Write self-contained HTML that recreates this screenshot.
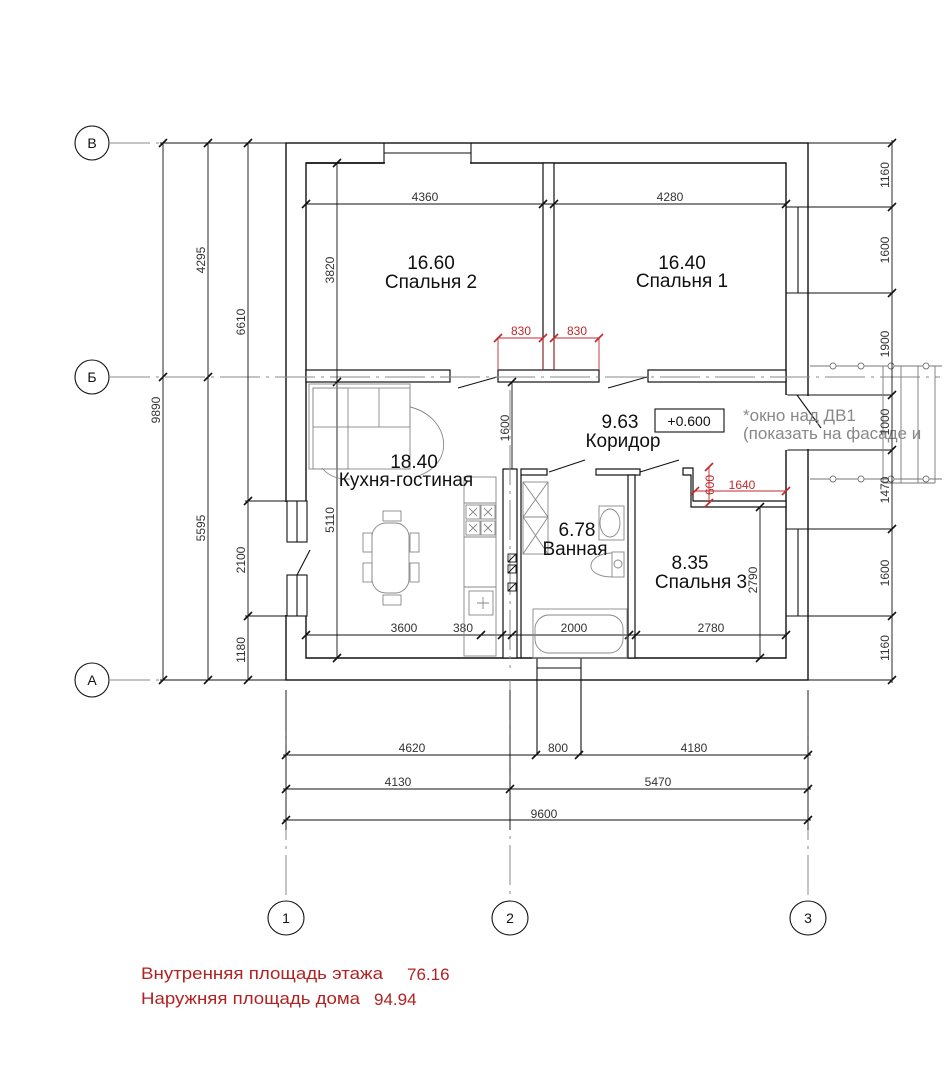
<!DOCTYPE html>
<html><head><meta charset="utf-8"><style>
html,body{margin:0;padding:0;background:#fff;}
svg{display:block}
text{font-family:"Liberation Sans",sans-serif;}
.d{font-size:12px;fill:#333}
.r{font-size:19px;fill:#111}
</style></head><body>
<svg width="949" height="1080" viewBox="0 0 949 1080" xmlns="http://www.w3.org/2000/svg">
<g fill="none" stroke="#111" stroke-width="1.4">
<rect x="286" y="143" width="522" height="537"/>
<polyline points="306,501 306,163 786,163 786,658 306,658 306,616"/>
</g>
<rect x="284" y="502" width="24" height="113" fill="#fff"/>
<g fill="none" stroke="#111" stroke-width="1.1">
<line x1="286" y1="501" x2="306" y2="501"/><line x1="286" y1="616" x2="306" y2="616"/>
<rect x="287" y="501" width="20" height="41"/><line x1="297" y1="501" x2="297" y2="542"/>
<rect x="287" y="575" width="20" height="41"/><line x1="297" y1="575" x2="297" y2="616"/>
<line x1="310" y1="550" x2="297" y2="575"/>
</g>
<rect x="385" y="145" width="85" height="20" fill="#fff"/>
<g fill="none" stroke="#111" stroke-width="1.1">
<line x1="384" y1="143" x2="384" y2="163"/><line x1="471" y1="143" x2="471" y2="163"/>
<line x1="384" y1="153" x2="471" y2="153"/>
<line x1="306" y1="163" x2="384" y2="163" stroke-width="1.4"/>
</g>
<rect x="788" y="396" width="22" height="53" fill="#fff"/>
<g fill="none" stroke="#111" stroke-width="1.1">
<line x1="786" y1="207" x2="892" y2="207"/><line x1="786" y1="293" x2="892" y2="293"/>
<line x1="798" y1="207" x2="798" y2="293"/>
<line x1="786" y1="395" x2="892" y2="395"/><line x1="786" y1="450" x2="892" y2="450"/>
<line x1="786" y1="529" x2="892" y2="529"/><line x1="786" y1="616" x2="892" y2="616"/>
<line x1="798" y1="529" x2="798" y2="616"/>
<line x1="786" y1="395" x2="786" y2="450" stroke="#fff" stroke-width="3"/>
<line x1="797" y1="395" x2="821" y2="428"/>
<line x1="808" y1="143" x2="892" y2="143"/><line x1="808" y1="680" x2="892" y2="680"/>
</g>
<g fill="none" stroke="#777" stroke-width="0.9">
<line x1="810" y1="366" x2="942" y2="366"/><line x1="810" y1="479" x2="942" y2="479"/>
<line x1="883" y1="366" x2="883" y2="483"/><line x1="901" y1="366" x2="901" y2="483"/>
<line x1="918" y1="366" x2="918" y2="483"/><line x1="935" y1="366" x2="935" y2="483"/>
<line x1="883" y1="483" x2="935" y2="483"/>
<circle cx="833" cy="366" r="3" fill="#fff"/><circle cx="861" cy="366" r="3" fill="#fff"/><circle cx="891" cy="366" r="3" fill="#fff"/><circle cx="926" cy="366" r="3" fill="#fff"/>
<circle cx="833" cy="479" r="3" fill="#fff"/><circle cx="861" cy="479" r="3" fill="#fff"/><circle cx="891" cy="479" r="3" fill="#fff"/><circle cx="926" cy="479" r="3" fill="#fff"/>
</g>
<text x="743" y="421" style="font-size:17px;fill:#888">*окно над ДВ1</text>
<text x="743" y="439" style="font-size:17px;fill:#888">(показать на фасаде и</text>
<g fill="none" stroke="#111" stroke-width="1.1">
<line x1="537" y1="658" x2="537" y2="755"/><line x1="581" y1="658" x2="581" y2="755"/>
<line x1="537" y1="668" x2="581" y2="668"/>
</g>
<g fill="#fff" stroke="#111" stroke-width="1.2">
<rect x="543" y="163" width="11" height="207"/>
<rect x="306" y="370" width="144" height="12"/>
<rect x="498" y="370" width="101" height="12"/>
<rect x="648" y="370" width="138" height="12"/>
<rect x="503" y="469" width="14" height="189"/>
<line x1="521" y1="475" x2="521" y2="658"/>
<rect x="521" y="469" width="26" height="6"/>
<rect x="596" y="469" width="44" height="6"/>
<rect x="628" y="475" width="7" height="183"/>
<polygon points="683,468 693,468 693,501 786,501 786,507 691,507 691,475 683,475"/>
</g>
<g stroke="#111" stroke-width="1">
<line x1="458" y1="388" x2="497" y2="377"/><line x1="608" y1="388" x2="647" y2="377"/>
<line x1="549" y1="472" x2="585" y2="460"/><line x1="640" y1="472" x2="679" y2="460"/>
</g>
<g stroke="#888" stroke-width="1" stroke-dasharray="40 6 3 6" fill="none">
<line x1="110" y1="143" x2="286" y2="143"/>
<line x1="110" y1="377" x2="940" y2="377"/>
<line x1="110" y1="680" x2="286" y2="680"/>
<line x1="510" y1="680" x2="510" y2="900"/>
<line x1="286" y1="690" x2="286" y2="900"/>
<line x1="808" y1="690" x2="808" y2="900"/>
<line x1="510" y1="390" x2="510" y2="668"/>
</g>
<g fill="#fff" stroke="#111" stroke-width="1.1">
<circle cx="92" cy="143" r="17"/><circle cx="92" cy="377" r="17"/><circle cx="92" cy="680" r="17"/>
<ellipse cx="286" cy="918" rx="18" ry="17"/><ellipse cx="510" cy="918" rx="18" ry="17"/><ellipse cx="808" cy="918" rx="18" ry="17"/>
</g>
<g style="font-size:14px" fill="#111" text-anchor="middle">
<text x="92" y="148">В</text><text x="92" y="382">Б</text><text x="92" y="685">А</text>
<text x="286" y="923">1</text><text x="510" y="923">2</text><text x="808" y="923">3</text>
</g>
<g stroke="#111" stroke-width="0.9" fill="none">
<line x1="163" y1="143" x2="163" y2="680"/><line x1="208" y1="143" x2="208" y2="680"/><line x1="248" y1="143" x2="248" y2="680"/>
<line x1="160" y1="143" x2="286" y2="143"/><line x1="160" y1="680" x2="286" y2="680"/>
<line x1="245" y1="501" x2="286" y2="501"/><line x1="245" y1="616" x2="286" y2="616"/>
<line x1="892" y1="140" x2="892" y2="683"/>
<line x1="286" y1="690" x2="286" y2="830"/><line x1="510" y1="690" x2="510" y2="830"/><line x1="808" y1="690" x2="808" y2="830"/>
<line x1="283" y1="755" x2="811" y2="755"/><line x1="283" y1="789" x2="811" y2="789"/><line x1="283" y1="820" x2="811" y2="820"/>
<line x1="306" y1="204" x2="786" y2="204"/>
<line x1="337" y1="163" x2="337" y2="382"/>
<line x1="337" y1="382" x2="337" y2="658"/>
<line x1="512" y1="382" x2="512" y2="469"/>
<line x1="306" y1="635" x2="786" y2="635"/>
<line x1="760" y1="507" x2="760" y2="658"/>
</g>
<g stroke="#111" stroke-width="1.6">
<path d="M159,147l8,-8M159,381l8,-8M159,684l8,-8 M204,147l8,-8M204,381l8,-8M204,684l8,-8 M244,147l8,-8M244,505l8,-8M244,620l8,-8M244,684l8,-8
M888,147l8,-8M888,211l8,-8M888,297l8,-8M888,399l8,-8M888,454l8,-8M888,533l8,-8M888,620l8,-8M888,684l8,-8
M282,759l8,-8M532,759l8,-8M575,759l8,-8M804,759l8,-8 M282,793l8,-8M506,793l8,-8M804,793l8,-8 M282,824l8,-8M804,824l8,-8
M302,208l8,-8M539,208l8,-8M550,208l8,-8M782,208l8,-8
M333,167l8,-8M333,386l8,-8M333,662l8,-8 M508,386l8,-8
M302,639l8,-8M477,639l8,-8M498,639l8,-8M508,639l8,-8M625,639l8,-8M632,639l8,-8M782,639l8,-8 M756,511l8,-8M756,662l8,-8"/>
</g>
<g stroke="#c0282d" stroke-width="0.9" fill="none">
<line x1="498" y1="338" x2="543" y2="338"/><line x1="554" y1="338" x2="599" y2="338"/>
<line x1="498" y1="338" x2="498" y2="370"/><line x1="599" y1="338" x2="599" y2="370"/>
<line x1="543" y1="338" x2="543" y2="370"/><line x1="554" y1="338" x2="554" y2="370"/>
<line x1="709" y1="467" x2="709" y2="503"/><line x1="695" y1="491" x2="786" y2="491"/>
<path stroke-width="1.6" d="M494,342l8,-8M539,342l8,-8M550,342l8,-8M595,342l8,-8M705,471l8,-8M705,507l8,-8M691,495l8,-8M782,495l8,-8"/>
</g>
<g style="font-size:12px;fill:#c0282d" text-anchor="middle">
<text x="521" y="335">830</text><text x="577" y="335">830</text><text x="742" y="489">1640</text>
<text transform="translate(714,485) rotate(-90)">600</text>
</g>
<g class="d" text-anchor="middle">
<text x="425" y="201">4360</text><text x="670" y="201">4280</text>
<text transform="translate(334,270) rotate(-90)">3820</text>
<text transform="translate(334,520) rotate(-90)">5110</text>
<text transform="translate(509,428) rotate(-90)">1600</text>
<text transform="translate(757,580) rotate(-90)">2790</text>
<text x="404" y="632">3600</text><text x="463" y="632">380</text><text x="574" y="632">2000</text><text x="711" y="632">2780</text>
<text transform="translate(160,410) rotate(-90)">9890</text>
<text transform="translate(205,260) rotate(-90)">4295</text>
<text transform="translate(205,528) rotate(-90)">5595</text>
<text transform="translate(245,322) rotate(-90)">6610</text>
<text transform="translate(245,560) rotate(-90)">2100</text>
<text transform="translate(245,650) rotate(-90)">1180</text>
<text transform="translate(889,175) rotate(-90)">1160</text>
<text transform="translate(889,250) rotate(-90)">1600</text>
<text transform="translate(889,344) rotate(-90)">1900</text>
<text transform="translate(889,422) rotate(-90)">1000</text>
<text transform="translate(889,490) rotate(-90)">1470</text>
<text transform="translate(889,573) rotate(-90)">1600</text>
<text transform="translate(889,648) rotate(-90)">1160</text>
<text x="412" y="752">4620</text><text x="558" y="752">800</text><text x="694" y="752">4180</text>
<text x="398" y="786">4130</text><text x="658" y="786">5470</text>
<text x="544" y="818">9600</text>
</g>
<rect x="655" y="409" width="69" height="23" fill="none" stroke="#111" stroke-width="1.1"/>
<text x="689" y="426" text-anchor="middle" style="font-size:14px;fill:#111">+0.600</text>
<g fill="none" stroke="#888" stroke-width="0.9">
<rect x="309" y="384" width="101" height="85"/>
<rect x="313" y="388" width="97" height="39"/>
<rect x="313" y="388" width="35" height="81"/>
<line x1="379" y1="388" x2="379" y2="427"/>
<path d="M410,407 C448,416 458,462 418,476"/>
<path d="M322,468 Q332,480 350,479"/>
<rect x="372" y="523" width="37" height="70" rx="14"/>
<rect x="383" y="511" width="18" height="10"/><rect x="383" y="595" width="18" height="10"/>
<rect x="363" y="533" width="9" height="19"/><rect x="363" y="563" width="9" height="19"/>
<rect x="410" y="533" width="9" height="19"/><rect x="410" y="563" width="9" height="19"/>
<rect x="464" y="477" width="32" height="179"/>
<line x1="464" y1="503" x2="496" y2="503"/><line x1="464" y1="537" x2="496" y2="537"/><line x1="464" y1="587" x2="496" y2="587"/>
<rect x="466" y="505" width="14" height="14"/><rect x="481" y="505" width="14" height="14"/>
<rect x="466" y="521" width="14" height="14"/><rect x="481" y="521" width="14" height="14"/>
<path d="M469,508l8,8M477,508l-8,8M484,508l8,8M492,508l-8,8M469,524l8,8M477,524l-8,8M484,524l8,8M492,524l-8,8"/>
<rect x="469" y="591" width="24" height="24"/>
<path d="M483,597v12M477,603h12"/>
<rect x="523" y="482" width="25" height="35"/><rect x="523" y="517" width="25" height="37"/>
<path d="M523,482L548,517M548,482L523,517M523,517L548,554M548,517L523,554"/>
<rect x="599" y="506" width="25" height="34"/>
<ellipse cx="610" cy="523" rx="10" ry="14"/>
<rect x="612" y="552" width="12" height="25"/>
<path d="M612,553 C588,553 580,576 612,577"/>
<circle cx="618" cy="564" r="4"/>
<rect x="533" y="609" width="94" height="49"/>
<rect x="535" y="615" width="88" height="38" rx="14"/>
</g>
<g fill="none" stroke="#111" stroke-width="0.9">
<rect x="508" y="554" width="8" height="8"/><rect x="508" y="565" width="8" height="8"/><rect x="508" y="583" width="8" height="8"/>
<path d="M508,562l8,-8M508,573l8,-8M508,591l8,-8"/>
</g>
<g class="r" text-anchor="middle">
<text x="431" y="269">16.60</text><text x="431" y="288">Спальня 2</text>
<text x="682" y="269">16.40</text><text x="682" y="287">Спальня 1</text>
<text x="414" y="468">18.40</text><text x="406" y="486">Кухня-гостиная</text>
<text x="620" y="428">9.63</text><text x="623" y="447">Коридор</text>
<text x="577" y="536">6.78</text><text x="575" y="555">Ванная</text>
<text x="690" y="569">8.35</text><text x="701" y="588">Спальня 3</text>
</g>
<g style="font-size:17px;fill:#b22222">
<text x="141" y="979" textLength="242" lengthAdjust="spacingAndGlyphs">Внутренняя площадь этажа</text>
<text x="407" y="980">76.16</text>
<text x="141" y="1004" textLength="219" lengthAdjust="spacingAndGlyphs">Наружняя площадь дома</text>
<text x="374" y="1005">94.94</text>
</g>
</svg>
</body></html>
